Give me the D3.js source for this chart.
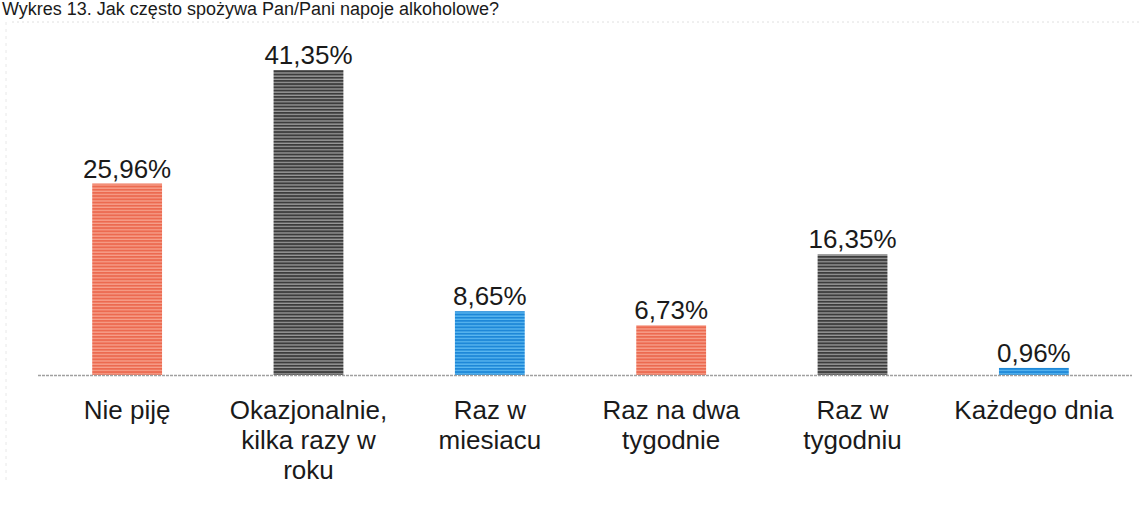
<!DOCTYPE html>
<html>
<head>
<meta charset="utf-8">
<script src="https://cdn.jsdelivr.net/npm/d3@7"></script>
<style>
  body { margin: 0; background: #fff; }
  text { font-family: "Liberation Sans", Arial, sans-serif; fill: #1a1a1a; }
</style>
</head>
<body>
<div id="chart"></div>
<script>
const categories = [
  ["Nie piję"],
  ["Okazjonalnie,", "kilka razy w", "roku"],
  ["Raz w", "miesiacu"],
  ["Raz na dwa", "tygodnie"],
  ["Raz w", "tygodniu"],
  ["Każdego dnia"]
];
const values = [25.96, 41.35, 8.65, 6.73, 16.35, 0.96];
const valueLabels = ["25,96%", "41,35%", "8,65%", "6,73%", "16,35%", "0,96%"];
const barColors = ["red", "grey", "blue", "red", "grey", "blue"];
const title = "Wykres 13. Jak często spożywa Pan/Pani napoje alkoholowe?";

const w = 1140, h = 513;
const baseY = 375;

const svg = d3.select("#chart").append("svg")
  .attr("width", w).attr("height", h);

// striped fills, like the scanned print
const palette = {
  red:  { base: "#f7a08c", stripe: "#ec6a50" },
  grey: { base: "#9a9a9a", stripe: "#3c3c3c" },
  blue: { base: "#5cb8f0", stripe: "#1e88d8" }
};
const defs = svg.append("defs");
Object.entries(palette).forEach(([k, c]) => {
  const p = defs.append("pattern")
    .attr("id", "stripe-" + k)
    .attr("patternUnits", "userSpaceOnUse")
    .attr("width", 8).attr("height", 3.2);
  p.append("rect").attr("width", 8).attr("height", 3.2).attr("fill", c.base);
  p.append("rect").attr("y", 0).attr("width", 8).attr("height", 1.9).attr("fill", c.stripe);
});

// title line at the very top (cropped in the scan)
svg.append("text")
  .attr("x", 2).attr("y", 15)
  .attr("font-size", 18)
  .attr("fill", "#333")
  .text(title);

// faint frame of the original chart area
svg.append("line")
  .attr("x1", 12).attr("x2", w).attr("y1", 22).attr("y2", 22)
  .attr("stroke", "#e0e0e0").attr("stroke-dasharray", "2,3");
svg.append("line")
  .attr("x1", 6).attr("x2", 6).attr("y1", 22).attr("y2", 480)
  .attr("stroke", "#e8e8e8").attr("stroke-dasharray", "3,4");

const x = d3.scaleBand()
  .domain(d3.range(values.length))
  .range([36, 1125])
  .paddingInner(0.615)
  .paddingOuter(0.31);

const y = d3.scaleLinear()
  .domain([0, 41.35])
  .range([baseY, 70]);

svg.selectAll("rect.bar")
  .data(values)
  .enter()
  .append("rect")
  .attr("class", "bar")
  .attr("x", (d, i) => x(i))
  .attr("y", d => y(d))
  .attr("width", x.bandwidth())
  .attr("height", d => baseY - y(d))
  .attr("fill", (d, i) => `url(#stripe-${barColors[i]})`);

// baseline axis
const xAxis = d3.axisBottom(x).tickSize(0).tickFormat("");
svg.append("g")
  .attr("transform", `translate(0, ${baseY})`)
  .call(xAxis)
  .call(g => g.select(".domain")
    .attr("d", `M38,0.5H1132`)
    .attr("stroke", "#a0a0a0")
    .attr("stroke-width", 1.5)
    .attr("stroke-dasharray", "3,1"));

svg.selectAll("text.val")
  .data(values)
  .enter()
  .append("text")
  .attr("class", "val")
  .attr("x", (d, i) => x(i) + x.bandwidth() / 2)
  .attr("y", d => y(d) - 6)
  .attr("text-anchor", "middle")
  .attr("font-size", 26)
  .text((d, i) => valueLabels[i]);

const cat = svg.selectAll("text.cat")
  .data(categories)
  .enter()
  .append("text")
  .attr("class", "cat")
  .attr("x", (d, i) => x(i) + x.bandwidth() / 2)
  .attr("y", 419)
  .attr("text-anchor", "middle")
  .attr("font-size", 26);

cat.selectAll("tspan")
  .data((d, i) => d.map(t => ({ t, cx: x(i) + x.bandwidth() / 2 })))
  .enter()
  .append("tspan")
  .attr("x", d => d.cx)
  .attr("dy", (d, j) => j === 0 ? 0 : 30)
  .text(d => d.t);
</script>
</body>
</html>
